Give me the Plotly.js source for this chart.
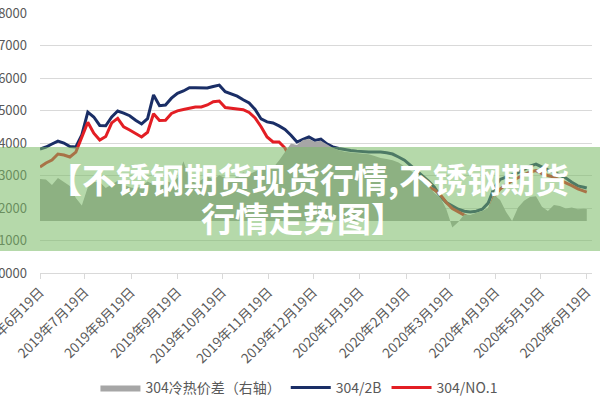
<!DOCTYPE html>
<html><head><meta charset="utf-8">
<script src="https://cdn.plot.ly/plotly-3.0.1.min.js"></script>
<style>html,body{margin:0;padding:0;background:#fff}#chart{width:600px;height:400px}</style>
</head><body><div id="chart"></div>
<script>
const dates = ['2019-06-19','2019-06-23','2019-06-27','2019-07-01','2019-07-05','2019-07-09','2019-07-13','2019-07-17','2019-07-21','2019-07-25','2019-07-29',
'2019-08-02','2019-08-06','2019-08-10','2019-08-14','2019-08-18','2019-08-22','2019-08-26','2019-08-30','2019-09-03','2019-09-07','2019-09-11','2019-09-15',
'2019-09-19','2019-09-23','2019-09-27','2019-10-01','2019-10-05','2019-10-09','2019-10-13','2019-10-17','2019-10-21','2019-10-25','2019-10-29',
'2019-11-02','2019-11-06','2019-11-10','2019-11-14','2019-11-18','2019-11-22','2019-11-26','2019-11-30','2019-12-04','2019-12-08','2019-12-12',
'2019-12-16','2019-12-20','2019-12-24','2019-12-28','2020-01-01','2020-01-05','2020-01-09','2020-01-13','2020-01-17','2020-01-21','2020-01-25',
'2020-01-29','2020-02-02','2020-02-06','2020-02-10','2020-02-14','2020-02-18','2020-02-22','2020-02-26','2020-03-01','2020-03-05','2020-03-09',
'2020-03-13','2020-03-17','2020-03-21','2020-03-25','2020-03-29','2020-04-02','2020-04-06','2020-04-10','2020-04-14','2020-04-18','2020-04-22',
'2020-04-26','2020-04-30','2020-05-04','2020-05-08','2020-05-12','2020-05-16','2020-05-20','2020-05-24','2020-05-28','2020-06-01','2020-06-05',
'2020-06-09','2020-06-13','2020-06-17','2020-06-19'];

const price2B = [13815,13877,13970,14060,14000,13890,13880,14250,14950,14800,14540,
14530,14800,14985,14920,14840,14700,14585,14750,15480,15150,15170,15380,
15530,15600,15700,15700,15690,15690,15740,15780,15580,15500,15440,
15330,15230,15030,14740,14650,14615,14525,14420,14240,14030,14110,
14185,14080,14120,13970,13880,13830,13790,13770,13750,13730,13725,
13725,13725,13700,13660,13570,13470,13310,13150,13000,12830,12640,
12360,12170,12060,11960,11900,11875,11900,11960,12150,12620,12880,
12950,13010,13090,13190,13290,13350,13250,13170,13100,13010,12920,
12790,12680,12640,12615];

const priceNO1 = [13260,13385,13475,13660,13630,13570,13720,14200,14640,14300,14090,
14200,14620,14760,14500,14400,14300,14185,14330,14900,14690,14700,14910,
14990,15030,15080,15110,15110,15170,15270,15290,15090,15075,15055,
15025,14940,14770,14500,14185,14030,14030,13845,13460,13240,13170,
13170,13170,13170,13170,13170,13170,13170,13170,13170,13170,13170,
13160,13140,13130,13120,13100,13040,12950,12870,12760,12650,12560,
12410,12170,11980,11870,11780,11690,11650,11650,11850,12350,12580,
12720,12840,12930,13010,13110,13150,13060,13000,12950,12860,12780,
12690,12590,12520,12490];

const spread = [1615,1600,1385,1650,1500,1345,880,600,1300,1500,1500,
1270,1400,1550,1400,1300,1250,1345,1520,1420,1300,1550,1460,
1650,2300,1650,1450,1575,1720,1600,1760,1650,1560,1720,
1870,1800,1900,2020,2150,2050,2330,2650,2980,2920,3120,
3150,3050,3090,2950,2820,2720,2660,2630,2610,2590,2570,
2500,2420,2380,2340,2250,2100,1940,1760,1600,1350,1080,
900,450,-250,-40,250,230,320,380,500,1000,810,
350,0,520,780,920,950,550,380,620,575,480,
520,450,470,460];

const tickDates = ['2019-06-19','2019-07-19','2019-08-19','2019-09-19','2019-10-19','2019-11-19','2019-12-19',
'2020-01-19','2020-02-19','2020-03-19','2020-04-19','2020-05-19','2020-06-19'];
const tickLabels = ['2019年6月19日','2019年7月19日','2019年8月19日','2019年9月19日','2019年10月19日','2019年11月19日','2019年12月19日',
'2020年1月19日','2020年2月19日','2020年3月19日','2020年4月19日','2020年5月19日','2020年6月19日'];
const seriesNames = ['304冷热价差（右轴）','304/2B','304/NO.1'];
const bannerLines = ['【不锈钢期货现货行情,不锈钢期货','行情走势图】'];

const FONT = 'Noto Sans CJK SC, Noto Sans, sans-serif';
const traces = [
  {x: dates, y: spread, yaxis: 'y2', type: 'scatter', mode: 'lines', name: seriesNames[0],
   fill: 'tozeroy', fillcolor: '#a6a6a6', line: {width: 0, color: '#a6a6a6'}},
  {x: dates, y: price2B, type: 'scatter', mode: 'lines', name: seriesNames[1],
   line: {width: 3, color: '#1a2e66'}},
  {x: dates, y: priceNO1, type: 'scatter', mode: 'lines', name: seriesNames[2],
   line: {width: 3, color: '#e31e24'}}
];

const layout = {
  width: 600, height: 400,
  margin: {l: 40, r: 8, t: 13, b: 127, autoexpand: false},
  paper_bgcolor: '#fff', plot_bgcolor: '#fff',
  font: {family: FONT, color: '#595959'},
  showlegend: true,
  legend: {orientation: 'h', x: 0.47, xanchor: 'center', y: -0.442, yanchor: 'middle',
           font: {size: 14, color: '#595959', family: FONT}, itemwidth: 40, bgcolor: 'rgba(0,0,0,0)'},
  xaxis: {type: 'date', range: ['2019-06-19', '2020-06-22 12:00'], tickmode: 'array',
          tickvals: tickDates, ticktext: tickLabels, tickangle: -45, ticklabeloverflow: 'allow',
          ticks: 'outside', ticklen: 5, tickcolor: '#d9d9d9', showline: true, linecolor: '#d9d9d9',
          showgrid: false, zeroline: false, tickfont: {size: 13.5, color: '#595959', family: FONT}, fixedrange: true},
  yaxis: {range: [10000, 18000], tick0: 10000, dtick: 1000, tickformat: 'd', gridcolor: '#d9d9d9',
          showline: false, zeroline: false, ticklabelstandoff: 12, ticklabeloverflow: 'allow',
          tickfont: {size: 13, color: '#595959', family: FONT}, fixedrange: true},
  yaxis2: {overlaying: 'y', side: 'right', range: [-2000, 8000], visible: false, showgrid: false, zeroline: false},
  shapes: [{type: 'rect', xref: 'paper', yref: 'paper', x0: -0.1, x1: 1.1, y0: 0.0846, y1: 0.4846,
            fillcolor: 'rgba(120,185,100,0.55)', line: {width: 0}, layer: 'above'}],
  annotations: [
    {text: '<b>' + bannerLines[0] + '</b>', xref: 'paper', yref: 'paper', x: 0.487, y: 0.362,
     xanchor: 'center', yanchor: 'middle', showarrow: false, font: {family: FONT, size: 34, color: '#ffffff'}},
    {text: '<b>' + bannerLines[1] + '</b>', xref: 'paper', yref: 'paper', x: 0.476, y: 0.215,
     xanchor: 'center', yanchor: 'middle', showarrow: false, font: {family: FONT, size: 34, color: '#ffffff'}}
  ]
};
Plotly.newPlot('chart', traces, layout, {displayModeBar: false, staticPlot: true});
</script></body></html>
